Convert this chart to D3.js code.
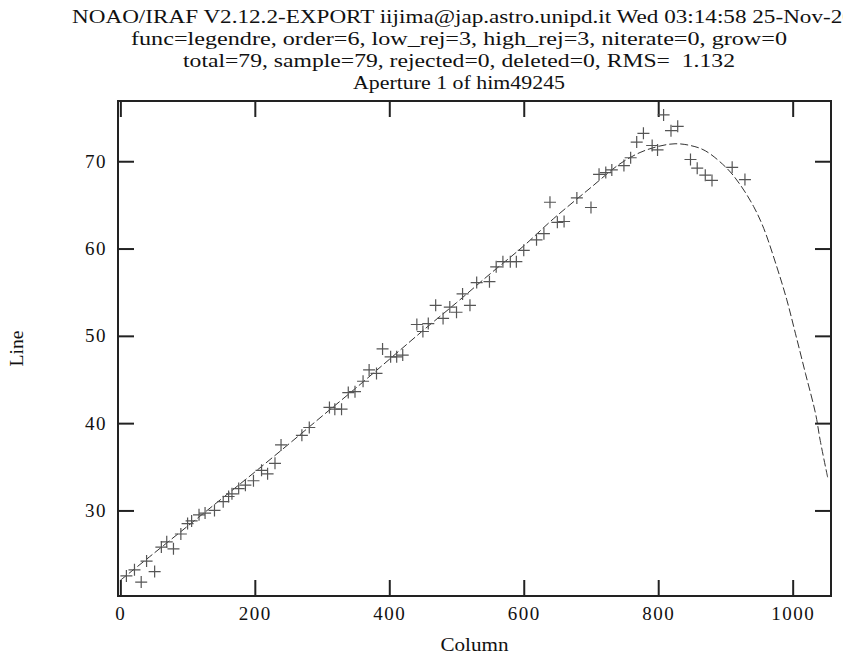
<!DOCTYPE html>
<html>
<head>
<meta charset="utf-8">
<script src="https://cdn.jsdelivr.net/npm/d3@7"></script>
<style>
  body { margin: 0; background: #fff; }
  text { font-family: "Liberation Serif", "DejaVu Serif", serif; fill: #111; white-space: pre; }
</style>
</head>
<body>
<svg id="plot"></svg>
<script>
// header lines printed by the plotting package
const titleLines = [
  "NOAO/IRAF V2.12.2-EXPORT iijima@jap.astro.unipd.it Wed 03:14:58 25-Nov-2008",
  "func=legendre, order=6, low_rej=3, high_rej=3, niterate=0, grow=0",
  "total=79, sample=79, rejected=0, deleted=0, RMS=  1.132",
  "Aperture 1 of him49245"
];

// measured points (column, line)
const pointCol = [9, 21, 31, 39, 51, 61, 69, 79, 90, 100, 106, 117, 126, 140, 153, 161, 166, 176, 186, 198,
  210, 219, 230, 239, 270, 281, 311, 319, 329, 339, 349, 361, 370, 381, 390, 402, 411, 420, 441, 450,
  458, 469, 480, 490, 500, 509, 520, 530, 549, 559, 569, 580, 589, 600, 619, 630, 639, 650, 660, 679,
  700, 712, 722, 731, 749, 759, 768, 778, 791, 799, 808, 819, 829, 848, 858, 870, 880, 910, 929];
const pointLine = [22.5, 23.2, 21.8, 24.2, 23.0, 25.8, 26.4, 25.6, 27.3, 28.5, 28.8, 29.5, 29.7, 30.0, 31.0, 31.6, 31.9, 32.5, 32.9, 33.4,
  34.6, 34.2, 35.4, 37.5, 38.6, 39.5, 41.8, 41.6, 41.6, 43.5, 43.6, 44.8, 46.1, 45.7, 48.5, 47.6, 47.6, 47.8, 51.3, 50.5,
  51.4, 53.5, 52.0, 53.3, 52.7, 54.8, 53.5, 56.1, 56.2, 57.9, 58.5, 58.5, 58.5, 59.8, 61.0, 61.7, 65.3, 63.0, 63.1, 65.8,
  64.7, 68.5, 68.7, 69.0, 69.5, 70.4, 72.2, 73.2, 71.8, 71.3, 75.3, 73.5, 74.0, 70.2, 69.2, 68.4, 67.8, 69.3, 67.9];

// fitted curve
const fitCol = [0, 50, 100, 150, 200, 252, 300, 350, 400, 450, 500, 550, 600, 644, 700, 743, 773, 800, 825, 848,
  870, 902, 922, 942, 957, 976, 991, 1004, 1019, 1034, 1041, 1052];
const fitLine = [22.0, 25.1, 28.2, 31.3, 34.4, 37.7, 40.8, 44.0, 47.3, 50.6, 53.8, 57.1, 60.3, 63.4, 67.0, 69.7, 71.0, 71.7, 72.0, 71.8,
  71.2, 69.2, 67.3, 64.8, 62.3, 58.0, 54.2, 50.3, 45.7, 41.1, 38.0, 33.8];

const xTicks = [0, 200, 400, 600, 800, 1000];
const yTicks = [30, 40, 50, 60, 70];

const width = 843, height = 655;
const margin = {top: 101, right: 12, bottom: 59, left: 118};
const innerW = width - margin.left - margin.right;
const innerH = height - margin.top - margin.bottom;

const svg = d3.select("#plot")
    .attr("width", width)
    .attr("height", height);

const x = d3.scaleLinear().domain([-3.5, 1057]).range([0, innerW]);
const y = d3.scaleLinear().domain([20.2, 76.9]).range([innerH, 0]);

// title block
const titleY = [23, 45, 67, 89];
const titleLen = [805, 656, 552, 212];
titleLines.forEach((t, i) => {
    svg.append("text")
        .attr("x", i == 0 ? 72 : 459)
        .attr("y", titleY[i])
        .attr("text-anchor", i == 0 ? "start" : "middle")
        .attr("font-size", 19)
        .attr("textLength", titleLen[i])
        .attr("lengthAdjust", "spacingAndGlyphs")
        .text(t);
});

const g = svg.append("g")
    .attr("transform", `translate(${margin.left},${margin.top})`);

g.append("clipPath").attr("id", "clip")
  .append("rect").attr("width", innerW).attr("height", innerH);

// axes, ticks drawn inward on all four sides
function styleAxis(sel) {
    sel.select(".domain").remove();
    sel.selectAll(".tick line").attr("stroke", "#222").attr("stroke-width", 2);
    sel.selectAll(".tick text")
        .attr("font-family", "Liberation Serif, serif")
        .attr("font-size", 19)
        .attr("letter-spacing", "1.5px")
        .attr("fill", "#111");
}

g.append("g")
    .attr("transform", `translate(0,${innerH})`)
    .call(d3.axisBottom(x).tickValues(xTicks).tickSize(-16).tickPadding(11).tickFormat(d3.format("d")))
    .call(styleAxis)
    .selectAll(".tick text").attr("dy", null).attr("y", 24);

g.append("g")
    .call(d3.axisTop(x).tickValues(xTicks).tickSize(-16).tickFormat(""))
    .call(styleAxis);

g.append("g")
    .call(d3.axisLeft(y).tickValues(yTicks).tickSize(-16).tickPadding(11))
    .call(styleAxis);

g.append("g")
    .attr("transform", `translate(${innerW},0)`)
    .call(d3.axisRight(y).tickValues(yTicks).tickSize(-16).tickFormat(""))
    .call(styleAxis);

g.append("rect")
    .attr("width", innerW)
    .attr("height", innerH)
    .attr("fill", "none")
    .attr("stroke", "#222")
    .attr("stroke-width", 2);

// fit
const fit = fitCol.map((c, i) => [c, fitLine[i]]);
const line = d3.line()
    .x(d => x(d[0]))
    .y(d => y(d[1]))
    .curve(d3.curveCatmullRom);

g.append("path")
    .datum(fit)
    .attr("clip-path", "url(#clip)")
    .attr("d", line)
    .attr("fill", "none")
    .attr("stroke", "#333")
    .attr("stroke-width", 1)
    .attr("stroke-dasharray", "8,3");

// data points as plus marks
g.append("g")
    .selectAll("path")
    .data(pointCol.map((c, i) => [c, pointLine[i]]))
    .enter()
    .append("path")
    .attr("transform", d => `translate(${x(d[0])},${y(d[1])})`)
    .attr("d", "M-6,0H6M0,-6V6")
    .attr("stroke", "#555")
    .attr("stroke-width", 1.2)
    .attr("fill", "none");

// axis titles
svg.append("text")
    .attr("x", margin.left + innerW / 2)
    .attr("y", 651)
    .attr("text-anchor", "middle")
    .attr("font-size", 19)
    .attr("textLength", 68)
    .attr("lengthAdjust", "spacingAndGlyphs")
    .text("Column");

svg.append("text")
    .attr("transform", `translate(23,${margin.top + innerH / 2}) rotate(-90)`)
    .attr("text-anchor", "middle")
    .attr("font-size", 19)
    .attr("textLength", 36)
    .attr("lengthAdjust", "spacingAndGlyphs")
    .text("Line");
</script>
</body>
</html>
